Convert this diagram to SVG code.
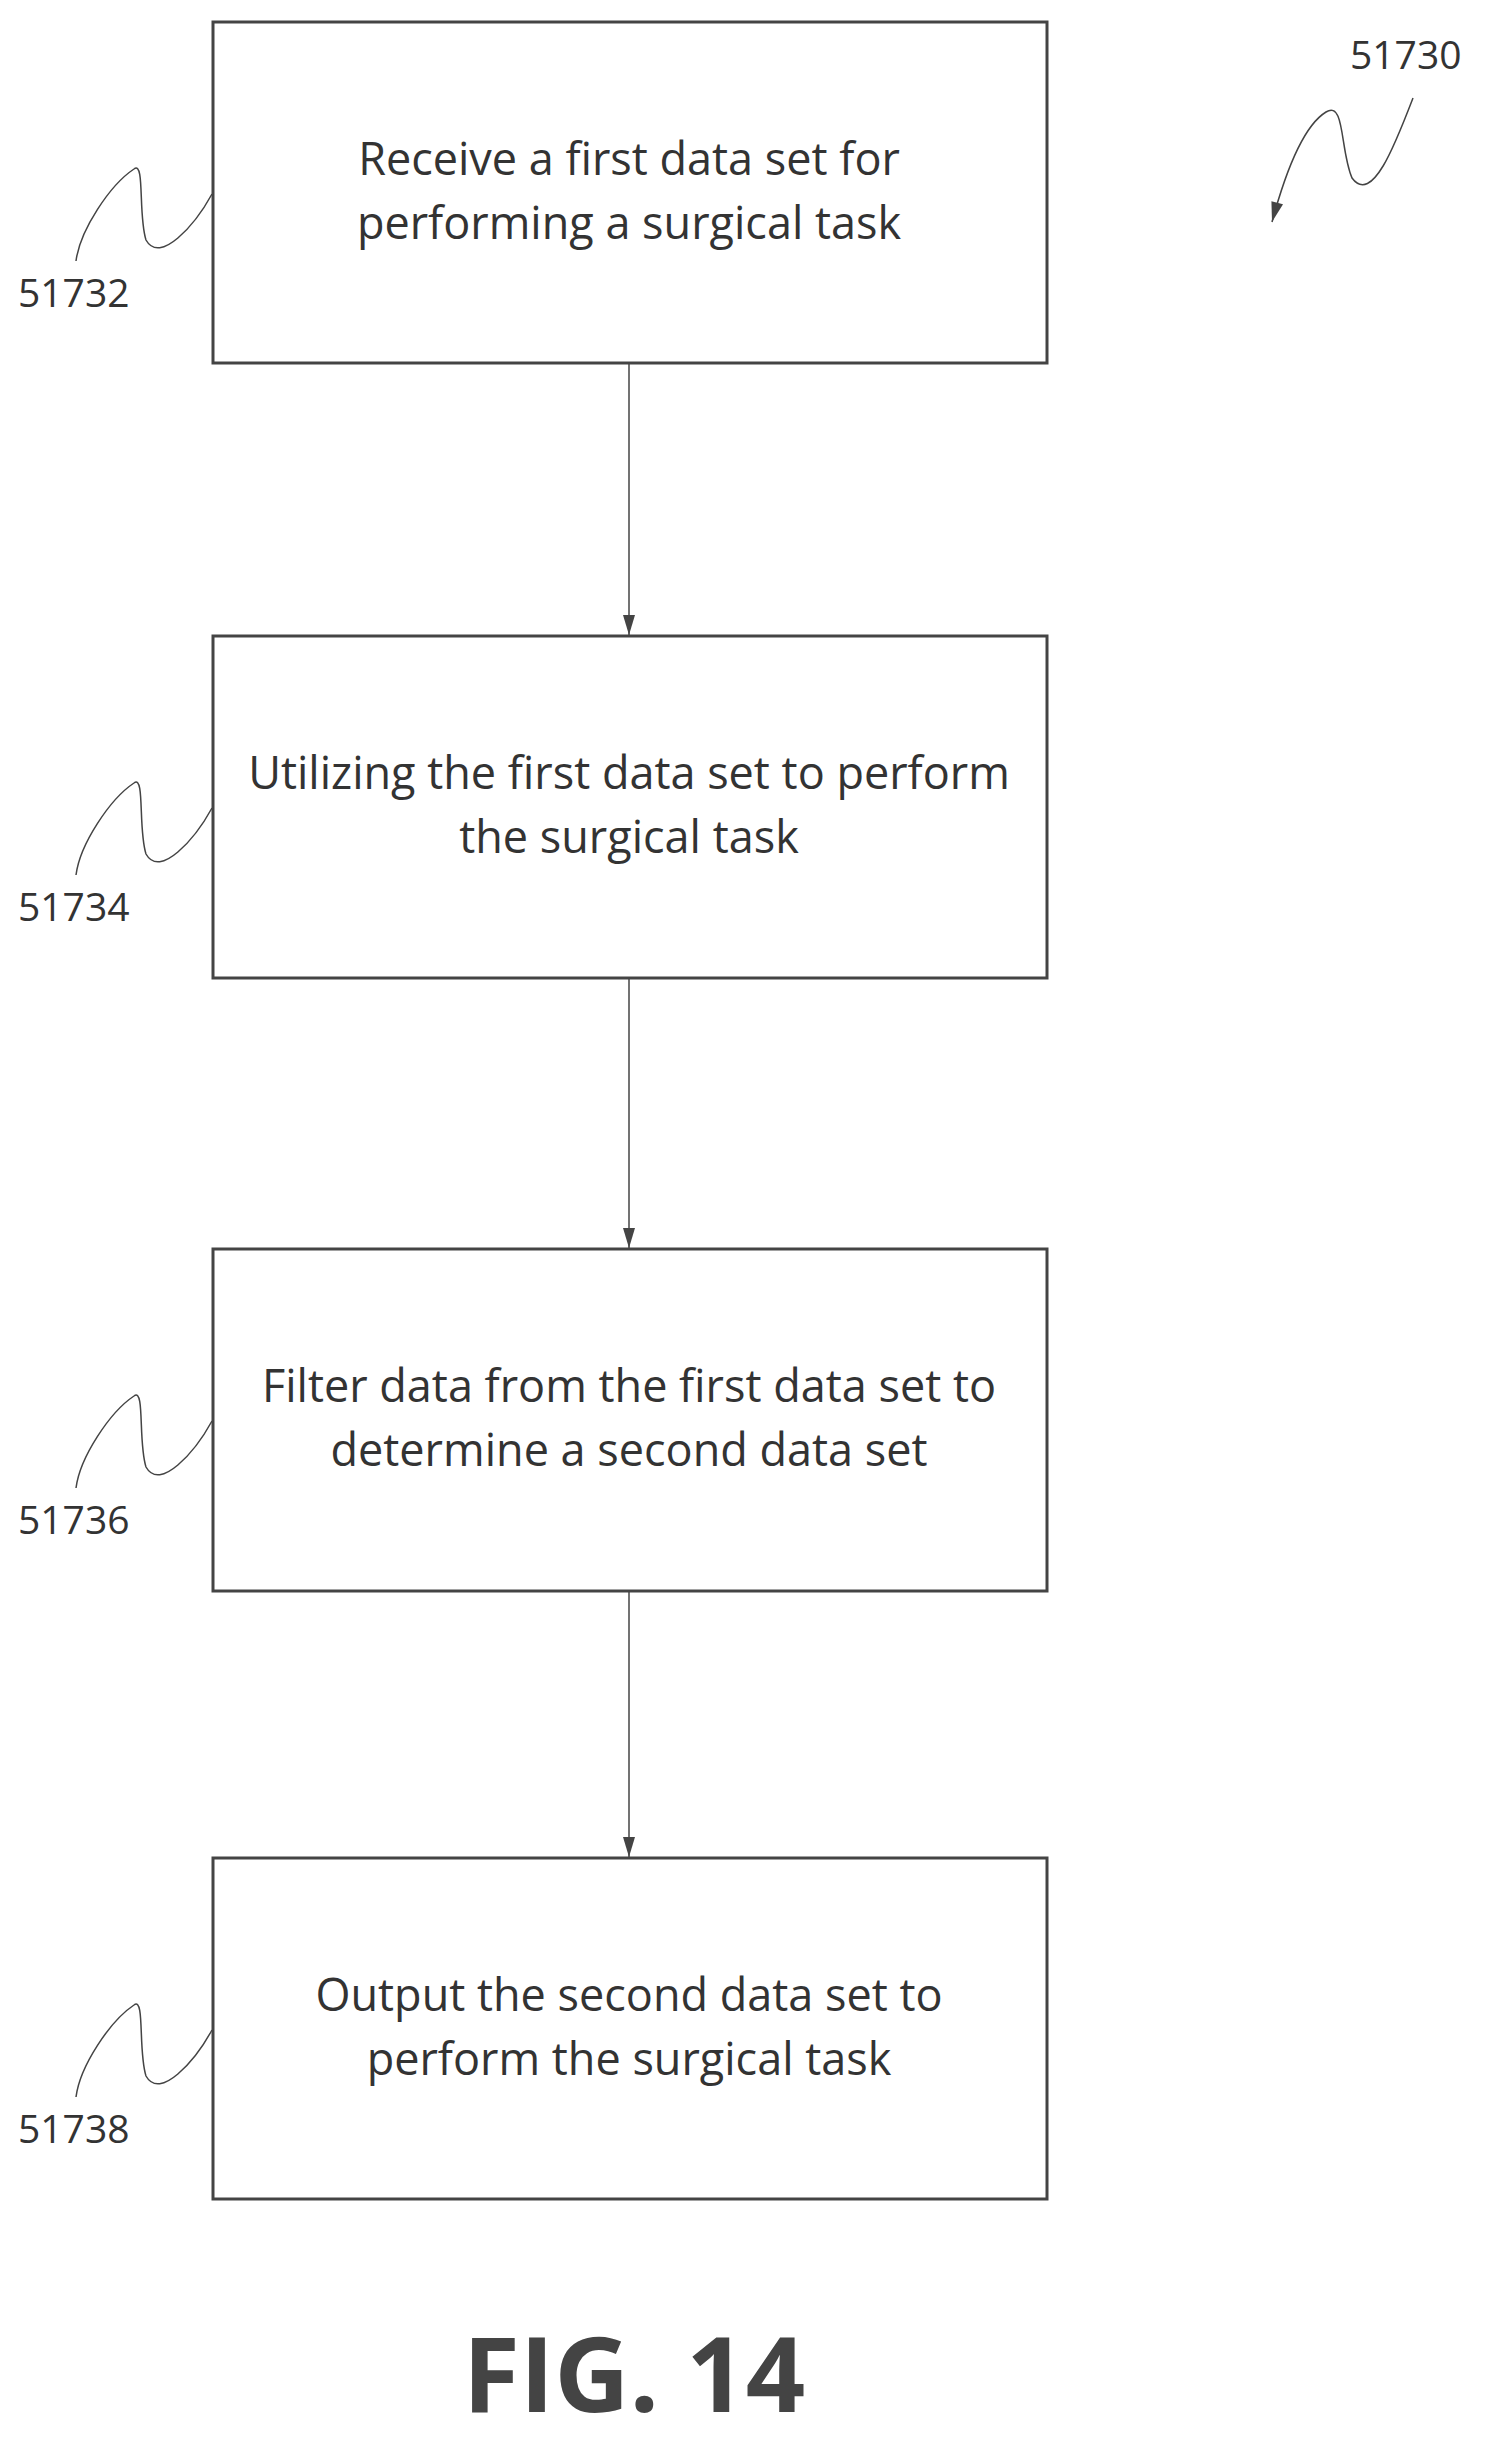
<svg xmlns="http://www.w3.org/2000/svg" width="1490" height="2444" viewBox="0 0 1490 2444">
<style>
.box{fill:#fff;stroke:#444;stroke-width:3}
.t{font-family:"Open Sans","Liberation Sans",sans-serif;font-size:45px;fill:#333;text-anchor:middle}
.lbl{font-family:"Open Sans","Liberation Sans",sans-serif;font-size:39px;fill:#333}
.sq{fill:none;stroke:#444;stroke-width:1.5}
.c{stroke:#444;stroke-width:1.5;fill:none}
</style>
<defs>
<marker id="ah2" viewBox="0 0 20 12" refX="20" refY="6" markerWidth="22" markerHeight="12" orient="auto" markerUnits="userSpaceOnUse">
<path d="M0,0 L20,6 L0,12 Z" fill="#444"/>
</marker>
</defs>
<g id="ref51730">
<text class="lbl" x="1350" y="69">51730</text>
<path class="sq" d="M1413,98 C1395,145 1372,205 1352,178 C1340,150 1345,100 1326,112 C1300,128 1282,185 1272,222" marker-end="url(#ah2)"/>
</g>
<g id="n1">
<rect class="box" x="213" y="22" width="834" height="341"/>
<text class="t" x="629" y="175">Receive a first data set for</text>
<text class="t" x="629" y="239">performing a surgical task</text>
</g>
<g id="n2">
<rect class="box" x="213" y="636" width="834" height="342"/>
<text class="t" x="629" y="789">Utilizing the first data set to perform</text>
<text class="t" x="629" y="853">the surgical task</text>
</g>
<g id="n3">
<rect class="box" x="213" y="1249" width="834" height="342"/>
<text class="t" x="629" y="1402">Filter data from the first data set to</text>
<text class="t" x="629" y="1466">determine a second data set</text>
</g>
<g id="n4">
<rect class="box" x="213" y="1858" width="834" height="341"/>
<text class="t" x="629" y="2011">Output the second data set to</text>
<text class="t" x="629" y="2075">perform the surgical task</text>
</g>
<g id="labels">
<g><text class="lbl" x="18" y="307">51732</text><path class="sq" d="M212,194 C195,225 160,265 146,240 C138,215 145,160 134,169 C110,185 80,230 76,261"/></g>
<g transform="translate(0,614)"><text class="lbl" x="18" y="307">51734</text><path class="sq" d="M212,194 C195,225 160,265 146,240 C138,215 145,160 134,169 C110,185 80,230 76,261"/></g>
<g transform="translate(0,1227)"><text class="lbl" x="18" y="307">51736</text><path class="sq" d="M212,194 C195,225 160,265 146,240 C138,215 145,160 134,169 C110,185 80,230 76,261"/></g>
<g transform="translate(0,1836)"><text class="lbl" x="18" y="307">51738</text><path class="sq" d="M212,194 C195,225 160,265 146,240 C138,215 145,160 134,169 C110,185 80,230 76,261"/></g>
</g>
<g id="connectors">
<line class="c" x1="629" y1="363" x2="629" y2="635" marker-end="url(#ah2)"/>
<line class="c" x1="629" y1="978" x2="629" y2="1248" marker-end="url(#ah2)"/>
<line class="c" x1="629" y1="1591" x2="629" y2="1857" marker-end="url(#ah2)"/>
</g>
<text x="634" y="2412" font-family="'Open Sans','Liberation Sans',sans-serif" font-weight="bold" font-size="104" fill="#444" text-anchor="middle">FIG. 14</text>
</svg>
